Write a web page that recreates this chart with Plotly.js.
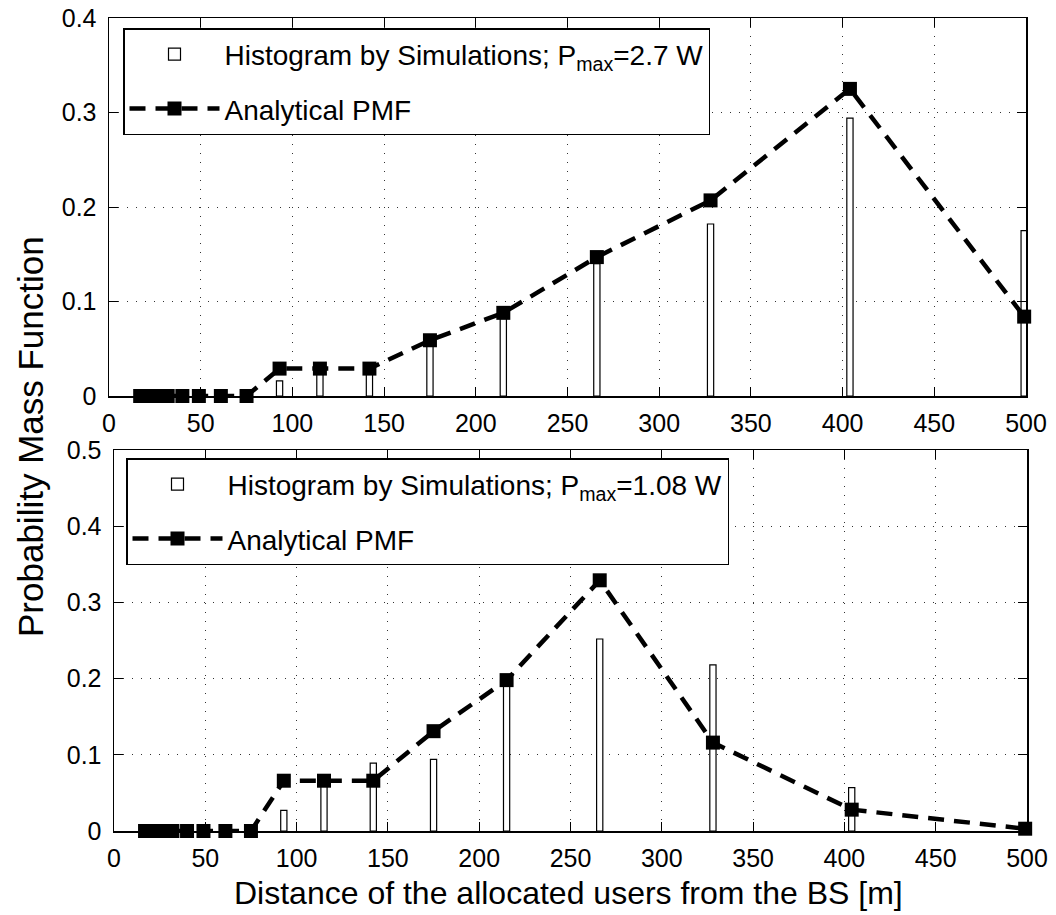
<!DOCTYPE html>
<html>
<head>
<meta charset="utf-8">
<script src="https://cdn.plot.ly/plotly-3.0.1.min.js"></script>
<style>html,body{margin:0;padding:0;background:#fff}#chart{width:1056px;height:915px}</style>
</head>
<body>
<div id="chart"></div>
<script>
// Distances of the allocated users from the BS [m]
const distances = [17, 21, 26, 32, 40, 49, 61, 75, 93, 115, 142, 175, 215, 266, 328, 404, 499];

// Top panel (Pmax = 2.7 W)
const histTop = [0, 0, 0, 0, 0, 0, 0, 0, 0.016, 0.025, 0.027, 0.055, 0.085, 0.140, 0.182, 0.294, 0.175];
const pmfTop  = [0, 0, 0, 0, 0, 0, 0, 0, 0.029, 0.029, 0.029, 0.059, 0.088, 0.147, 0.207, 0.325, 0.084];

// Bottom panel (Pmax = 1.08 W)
const histBot = [0, 0, 0, 0, 0, 0, 0, 0, 0.027, 0.065, 0.089, 0.094, 0.195, 0.252, 0.218, 0.057, 0.002];
const pmfBot  = [0, 0, 0, 0, 0, 0, 0, 0, 0.066, 0.066, 0.066, 0.131, 0.198, 0.329, 0.116, 0.028, 0.003];

const xTicks = [0, 50, 100, 150, 200, 250, 300, 350, 400, 450, 500];
const yTicksTop = [0, 0.1, 0.2, 0.3, 0.4];
const yTicksBot = [0, 0.1, 0.2, 0.3, 0.4, 0.5];

const histNameTop = 'Histogram by Simulations; P<sub>max</sub>=2.7 W';
const histNameBot = 'Histogram by Simulations; P<sub>max</sub>=1.08 W';
const pmfName = 'Analytical PMF';
const yTitle = 'Probability Mass Function';
const xTitle = 'Distance of the allocated users from the BS [m]';

const FONT = 'Liberation Sans, Arial, Helvetica, sans-serif';

function barTrace(y, xa, ya, name, leg, grp) {
  return {type: 'bar', x: distances, y: y, xaxis: xa, yaxis: ya, name: name,
    width: 3.4, marker: {color: '#ffffff', line: {color: '#000000', width: 1.2}},
    legend: leg, legendgroup: grp, hoverinfo: 'x+y'};
}
function lineTrace(y, xa, ya, leg, grp) {
  return {type: 'scatter', mode: 'lines+markers', x: distances, y: y, xaxis: xa, yaxis: ya,
    name: pmfName, line: {color: '#000000', width: 4.5, dash: '16px,10px'},
    marker: {symbol: 'square', size: 14, color: '#000000'},
    legend: leg, legendgroup: grp, cliponaxis: false};
}

const traces = [
  barTrace(histTop, 'x', 'y', histNameTop, 'legend', 'a'),
  lineTrace(pmfTop, 'x', 'y', 'legend', 'b'),
  barTrace(histBot, 'x2', 'y2', histNameBot, 'legend2', 'c'),
  lineTrace(pmfBot, 'x2', 'y2', 'legend2', 'd')
];

function xAxis(dom, anchor) {
  return {domain: dom, anchor: anchor, range: [0, 500], tickvals: xTicks,
    showline: true, linecolor: '#000', linewidth: 1.5, mirror: 'ticks',
    ticks: 'inside', ticklen: 9, tickwidth: 1, tickcolor: '#000',
    showgrid: true, gridcolor: '#333', griddash: '1px,8px', gridwidth: 1,
    zeroline: false, tickfont: {family: FONT, size: 25, color: '#000'},
    ticklabelstandoff: 4, automargin: false, fixedrange: true};
}
function yAxis(dom, anchor, rng, tv) {
  return {domain: dom, anchor: anchor, range: rng, tickvals: tv,
    ticktext: tv.map(v => v === 0 ? '0' : String(v)),
    showline: true, linecolor: '#000', linewidth: 1.5, mirror: 'ticks',
    ticks: 'inside', ticklen: 9, tickwidth: 1, tickcolor: '#000',
    showgrid: true, gridcolor: '#333', griddash: '1px,8px', gridwidth: 1,
    zeroline: false, tickfont: {family: FONT, size: 25, color: '#000'},
    ticklabelstandoff: 6, automargin: false, fixedrange: true};
}

const legendCommon = {
  bgcolor: '#ffffff', bordercolor: '#000', borderwidth: 1.5,
  font: {family: FONT, size: 28, color: '#000'},
  xanchor: 'left', yanchor: 'top', xref: 'paper', yref: 'paper',
  tracegroupgap: 15, itemwidth: 90, traceorder: 'grouped'
};

const layout = {
  width: 1056, height: 915,
  margin: {l: 0, r: 0, t: 0, b: 0},
  paper_bgcolor: '#fff', plot_bgcolor: '#fff',
  showlegend: true, barmode: 'overlay',
  font: {family: FONT, color: '#000'},
  xaxis: xAxis([109/1056, 1026/1056], 'y'),
  yaxis: yAxis([1 - 396/915, 1 - 18/915], 'x', [0, 0.4], yTicksTop),
  xaxis2: xAxis([114/1056, 1027/1056], 'y2'),
  yaxis2: yAxis([1 - 831/915, 1 - 450/915], 'x2', [0, 0.5], yTicksBot),
  legend: Object.assign({}, legendCommon, {x: 123/1056, y: 1 - 28/915}),
  legend2: Object.assign({}, legendCommon, {x: 126/1056, y: 1 - 458/915}),
  annotations: [
    {text: yTitle, xref: 'paper', yref: 'paper', x: 30/1056, y: 1 - 437/915,
     textangle: -90, showarrow: false, font: {family: FONT, size: 35, color: '#000'},
     xanchor: 'center', yanchor: 'middle'},
    {text: xTitle, xref: 'paper', yref: 'paper', x: 568/1056, y: 1 - 893/915,
     showarrow: false, font: {family: FONT, size: 32, color: '#000'},
     xanchor: 'center', yanchor: 'middle'}
  ]
};

Plotly.newPlot('chart', traces, layout, {displayModeBar: false, staticPlot: true});
</script>
</body>
</html>
